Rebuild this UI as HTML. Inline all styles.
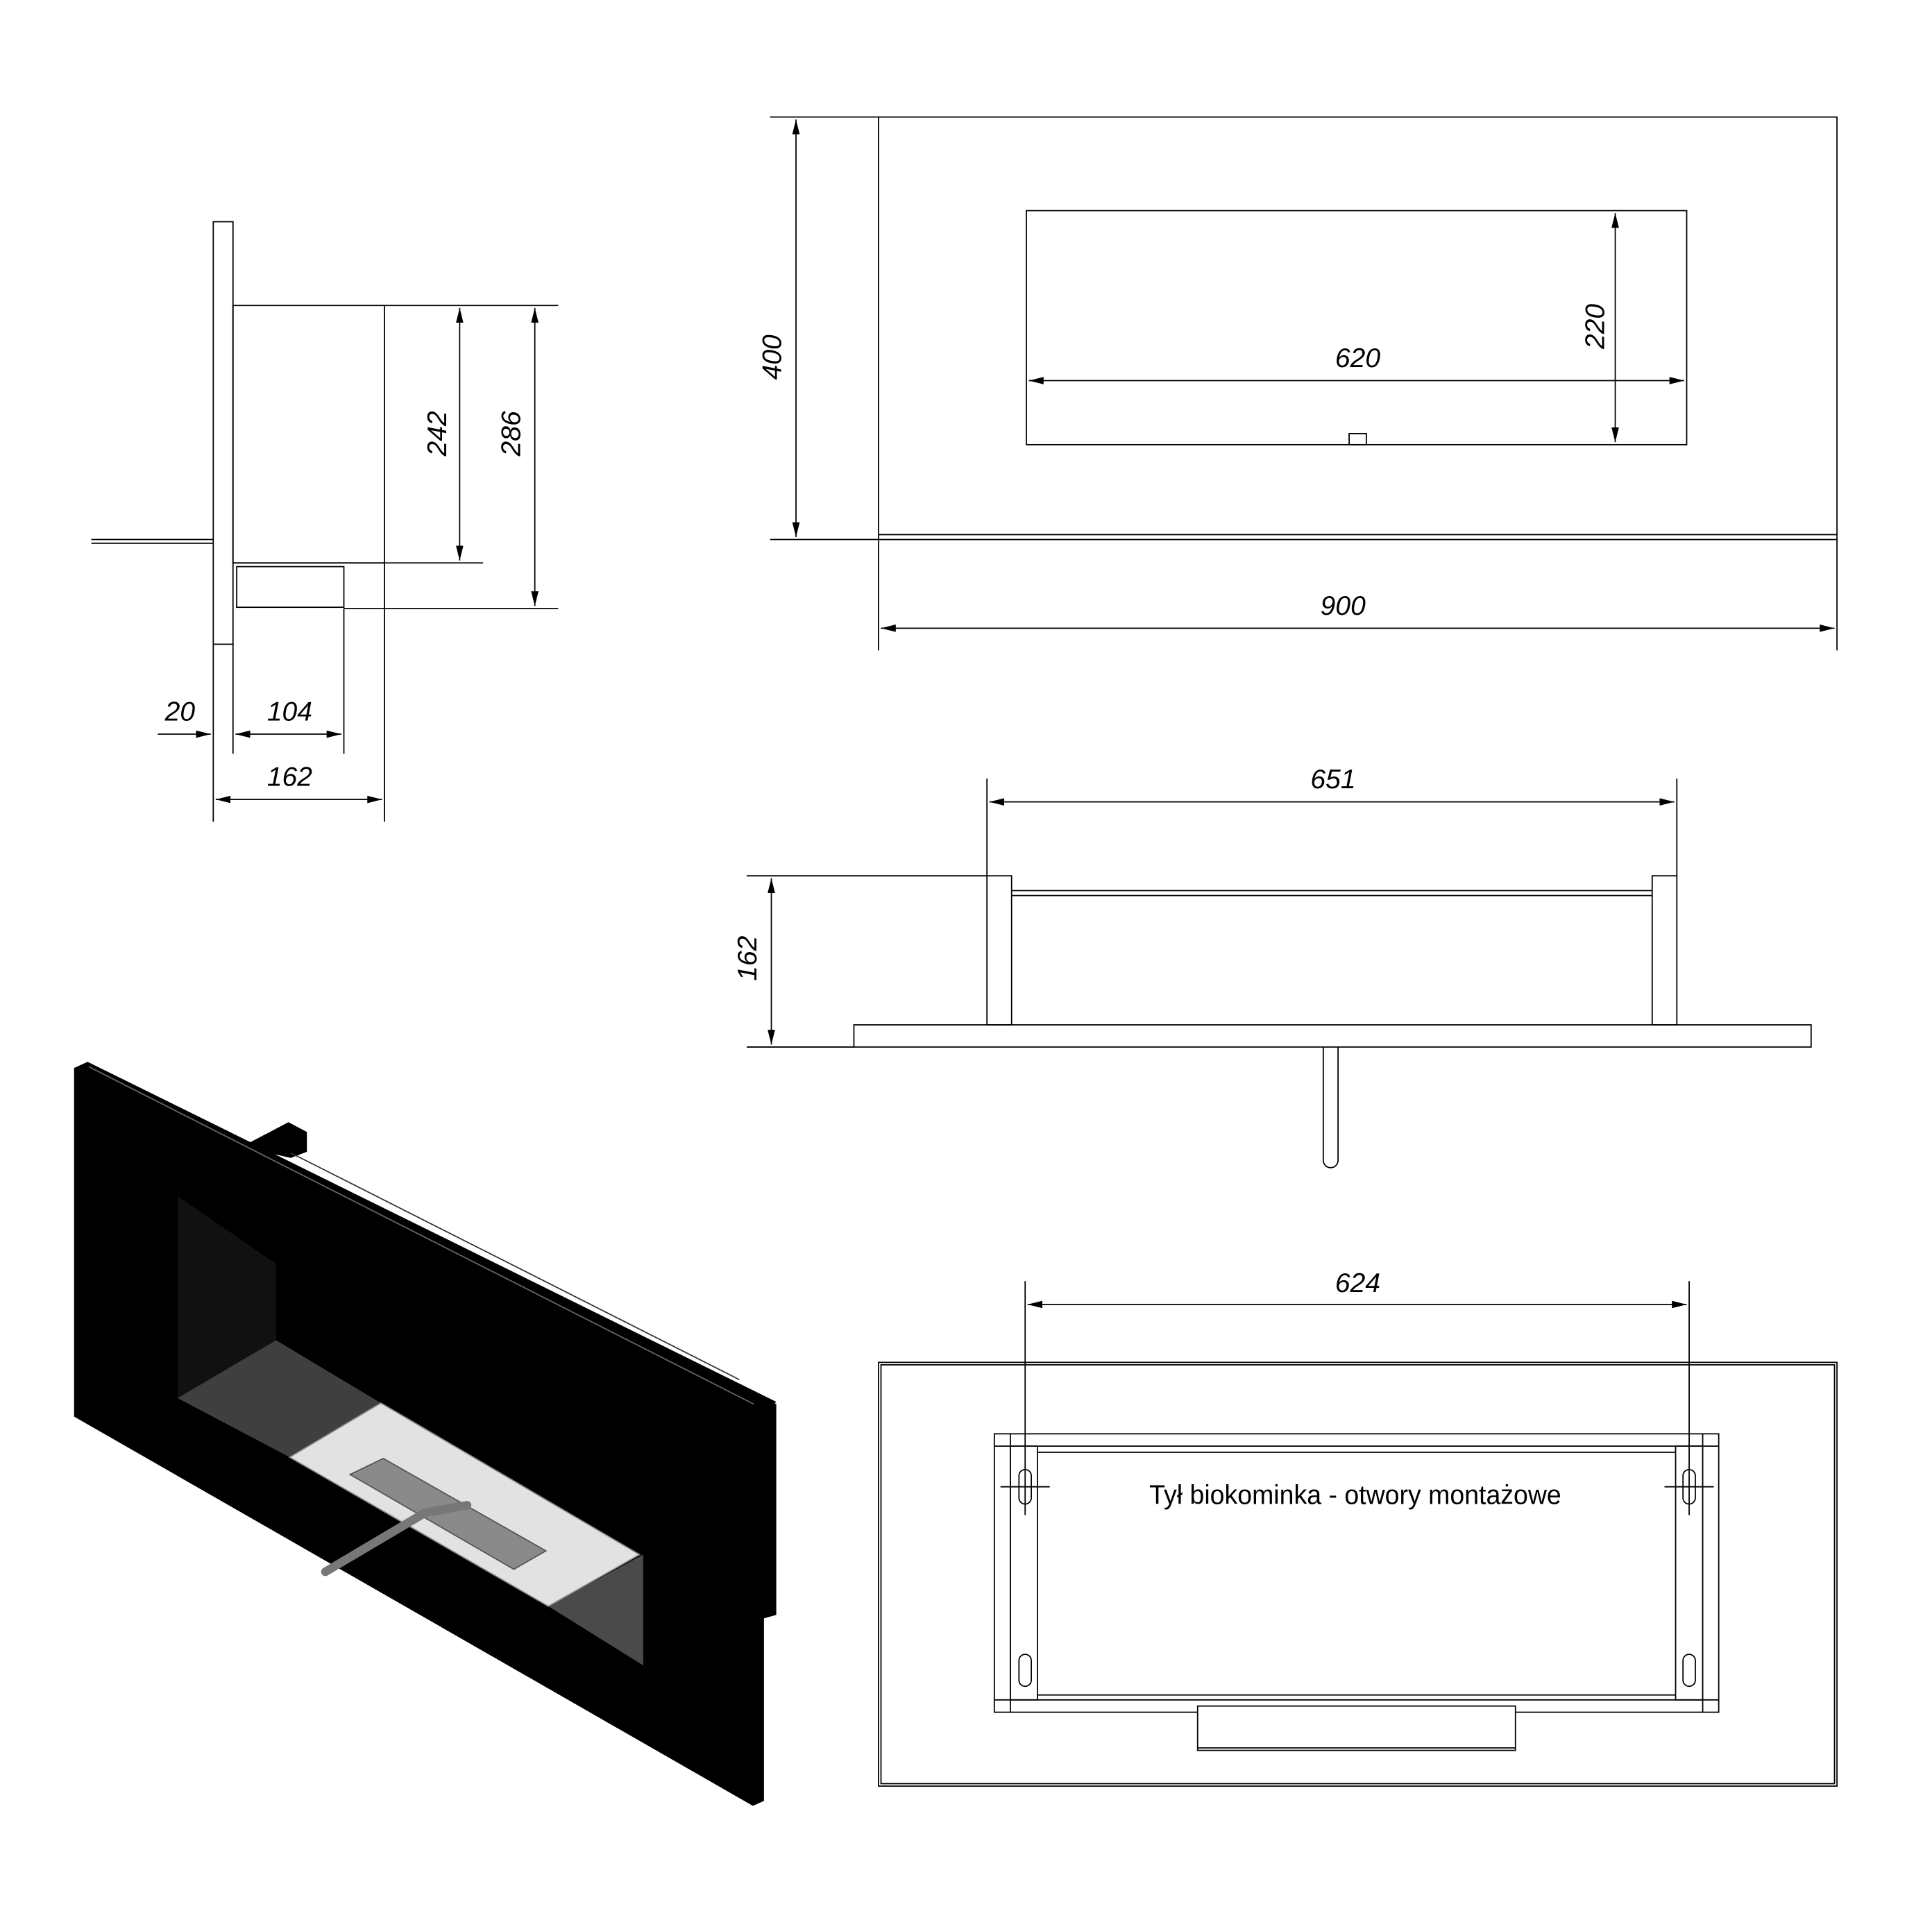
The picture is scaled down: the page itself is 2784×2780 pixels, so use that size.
<!DOCTYPE html>
<html><head><meta charset="utf-8"><style>html,body{margin:0;padding:0;background:#fff}svg{display:block}</style></head>
<body>
<svg width="2784" height="2780" viewBox="0 0 1568 1566" xmlns="http://www.w3.org/2000/svg">
<defs>
<marker id="a" viewBox="0 0 12 6" refX="12" refY="3" markerWidth="12" markerHeight="6" orient="auto-start-reverse" markerUnits="userSpaceOnUse"><path d="M0,0 L12,3 L0,6 z" fill="#000"/></marker>
</defs>
<g fill="none" stroke="#000" stroke-width="1">
<rect x="173" y="180" width="16" height="343"/>
<rect x="189" y="248" width="123" height="209"/>
<line x1="189" y1="457" x2="312" y2="457"/>
<rect x="192" y="460" width="87" height="33"/>
<line x1="74" y1="438" x2="173" y2="438"/>
<line x1="74" y1="441" x2="173" y2="441"/>
<line x1="312" y1="248" x2="453" y2="248"/><line x1="312" y1="457" x2="392" y2="457"/><line x1="279" y1="494" x2="453" y2="494"/>
<line x1="373" y1="250" x2="373" y2="455" marker-start="url(#a)" marker-end="url(#a)"/>
<line x1="434" y1="250" x2="434" y2="492" marker-start="url(#a)" marker-end="url(#a)"/>
<line x1="173" y1="523" x2="173" y2="667"/><line x1="189" y1="523" x2="189" y2="612"/><line x1="279" y1="494" x2="279" y2="612"/><line x1="312" y1="457" x2="312" y2="667"/>
<line x1="128" y1="596" x2="171" y2="596" marker-end="url(#a)"/>
<line x1="191" y1="596" x2="277" y2="596" marker-start="url(#a)" marker-end="url(#a)"/>
<line x1="175" y1="649" x2="310" y2="649" marker-start="url(#a)" marker-end="url(#a)"/>
<rect x="713" y="95" width="778" height="343"/>
<line x1="713" y1="434" x2="1491" y2="434"/>
<rect x="833" y="171" width="536" height="190"/>
<rect x="1095" y="352" width="14" height="9"/>
<line x1="625" y1="95" x2="713" y2="95"/><line x1="625" y1="438" x2="713" y2="438"/>
<line x1="646" y1="97" x2="646" y2="436" marker-start="url(#a)" marker-end="url(#a)"/>
<line x1="835" y1="309" x2="1367" y2="309" marker-start="url(#a)" marker-end="url(#a)"/>
<line x1="1311" y1="173" x2="1311" y2="359" marker-start="url(#a)" marker-end="url(#a)"/>
<line x1="713" y1="438" x2="713" y2="528"/><line x1="1491" y1="438" x2="1491" y2="528"/>
<line x1="715" y1="510" x2="1489" y2="510" marker-start="url(#a)" marker-end="url(#a)"/>
<rect x="693" y="832" width="777" height="18"/>
<rect x="801" y="711" width="20" height="121"/>
<rect x="1341" y="711" width="20" height="121"/>
<line x1="821" y1="723" x2="1341" y2="723"/><line x1="821" y1="727" x2="1341" y2="727"/>
<path d="M1074,850 V942 a6,6 0 0 0 12,0 V850"/>
<line x1="801" y1="632" x2="801" y2="711"/><line x1="1361" y1="632" x2="1361" y2="711"/>
<line x1="803" y1="651" x2="1359" y2="651" marker-start="url(#a)" marker-end="url(#a)"/>
<line x1="606" y1="711" x2="801" y2="711"/><line x1="606" y1="850" x2="693" y2="850"/>
<line x1="626" y1="713" x2="626" y2="848" marker-start="url(#a)" marker-end="url(#a)"/>
<rect x="713" y="1106" width="778" height="344"/>
<rect x="715" y="1108" width="774" height="340"/>
<rect x="807" y="1164" width="588" height="226"/>
<line x1="807" y1="1174" x2="1395" y2="1174"/><line x1="807" y1="1380" x2="1395" y2="1380"/>
<line x1="820" y1="1164" x2="820" y2="1390"/><line x1="1382" y1="1164" x2="1382" y2="1390"/>
<rect x="820" y="1174" width="22" height="206"/><rect x="1360" y="1174" width="22" height="206"/>
<line x1="842" y1="1179" x2="1360" y2="1179"/><line x1="842" y1="1376" x2="1360" y2="1376"/>
<rect x="972" y="1385" width="258" height="36" fill="#fff"/>
<line x1="972" y1="1419" x2="1230" y2="1419"/>
<line x1="832" y1="1040" x2="832" y2="1230"/><line x1="1371" y1="1040" x2="1371" y2="1230"/>
<line x1="834" y1="1059" x2="1369" y2="1059" marker-start="url(#a)" marker-end="url(#a)"/>
<line x1="812" y1="1207" x2="852" y2="1207"/><line x1="1351" y1="1207" x2="1391" y2="1207"/>
<rect x="827" y="1193" width="10" height="28" rx="5"/><rect x="1366" y="1193" width="10" height="28" rx="5"/>
<rect x="827" y="1343" width="10" height="26" rx="5"/><rect x="1366" y="1343" width="10" height="26" rx="5"/>
</g>
<g font-family="Liberation Sans, sans-serif" font-size="22" font-style="italic" fill="#000" text-anchor="middle">
<text x="146" y="585">20</text><text x="235" y="585">104</text><text x="235" y="638">162</text>
<text transform="translate(362,352) rotate(-90)">242</text>
<text transform="translate(422,352) rotate(-90)">286</text>
<text transform="translate(634,290) rotate(-90)">400</text>
<text x="1102" y="298">620</text>
<text transform="translate(1302,265) rotate(-90)">220</text>
<text x="1090" y="499">900</text>
<text x="1082" y="640">651</text>
<text transform="translate(614,778) rotate(-90)">162</text>
<text x="1102" y="1049">624</text>
</g>
<text x="0" y="0" font-family="Liberation Sans, sans-serif" font-size="22" text-anchor="middle" transform="translate(1100,1221) scale(0.96,1)">Tył biokominka - otwory montażowe</text>
<polygon points="196,931 234,911 249,919 249,935 236,940" fill="#000"/>
<polygon points="581,1150 614,1131 630,1140 630,1311 612,1316" fill="#000"/>
<polygon points="60,867 71,862 630,1138 620,1148 620,1462 611,1466 60,1150" fill="#000"/>
<line x1="72" y1="866" x2="612" y2="1140" stroke="#666" stroke-width="1"/>
<line x1="236" y1="936" x2="600" y2="1120" stroke="#333" stroke-width="1"/>
<polygon points="144,971 224,1026 224,1088 144,1135" fill="#111"/>
<polygon points="144,1135 224,1088 309,1139 235,1183" fill="#3f3f3f"/>
<polygon points="445,1304 522,1262 522,1352" fill="#4a4a4a"/>
<polygon points="235,1183 309,1139 519,1262 445,1304" fill="#e2e2e2" stroke="#888"/>
<polygon points="284,1197 311,1184 443,1259 417,1274" fill="#8a8a8a" stroke="#555"/>
<path d="M264,1276 L345,1228 L379,1222" stroke="#777" stroke-width="7" fill="none" stroke-linecap="round"/>
</svg>
</body></html>
